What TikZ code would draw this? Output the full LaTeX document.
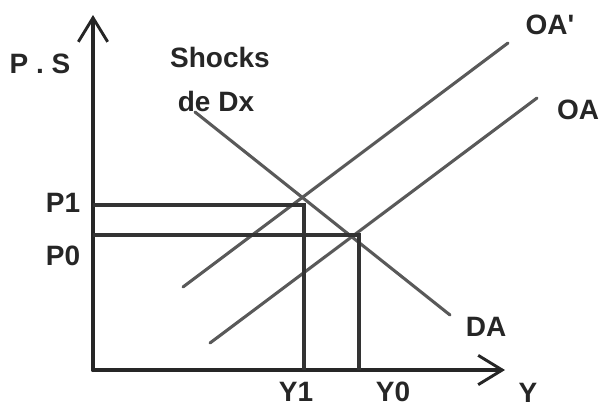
\documentclass[tikz,border=0pt]{standalone}
\usepackage{fontspec}
\setmainfont{Liberation Sans}
\usetikzlibrary{arrows.meta}
\begin{document}
\begin{tikzpicture}[x=0.75pt,y=-0.75pt,
  axis/.style={line width=3pt,draw=black!85,line cap=round,
    -{Straight Barb[length=18pt,width=22pt,line width=2.2pt]}},
  curve/.style={line width=2.3pt,draw=black!65,line cap=round},
  guide/.style={line width=2.3pt,draw=black!80},
  lbl/.style={font=\bfseries\fontsize{21}{23}\selectfont,text=black!85,inner sep=0pt}]
\useasboundingbox (0,0) rectangle (605,408);
% axes
\coordinate (O) at (93,370);
\coordinate (ytip) at (93,15);
\coordinate (xtip) at (505,370);
\draw[axis] (O) -- (ytip);
\draw[axis] (O) -- (xtip);
% curves
\coordinate (da1) at (195,112);
\coordinate (da2) at (450,315);
\coordinate (oap1) at (183,287);
\coordinate (oap2) at (508,43);
\coordinate (oa1) at (210,343);
\coordinate (oa2) at (537,98);
\draw[curve] (da1) -- (da2);
\draw[curve] (oap1) -- (oap2);
\draw[curve] (oa1) -- (oa2);
% equilibrium guides
\coordinate (E1) at (304,205);
\coordinate (E0) at (359,235);
\coordinate (p1) at (93,205);
\coordinate (p0) at (93,235);
\coordinate (y1) at (304,370);
\coordinate (y0) at (359,370);
\draw[guide] (p1) -- (E1) -- (y1);
\draw[guide] (p0) -- (E0) -- (y0);
% labels
\node[lbl] (lps) at (40,64) {P . S};
\node[lbl] (lsh) at (220,57) {Shocks};
\node[lbl] (lde) at (216,101) {de Dx};
\node[lbl] (loap) at (550,25) {OA\textquotesingle};
\node[lbl] (loa) at (578,110) {OA};
\node[lbl] (lda) at (486,327) {DA};
\node[lbl] (ly) at (528,393) {Y};
\node[lbl] (ly1) at (296,392) {Y1};
\node[lbl] (ly0) at (393,392) {Y0};
\node[lbl] (lp1) at (63,203) {P1};
\node[lbl] (lp0) at (63,256) {P0};
\end{tikzpicture}
\end{document}
